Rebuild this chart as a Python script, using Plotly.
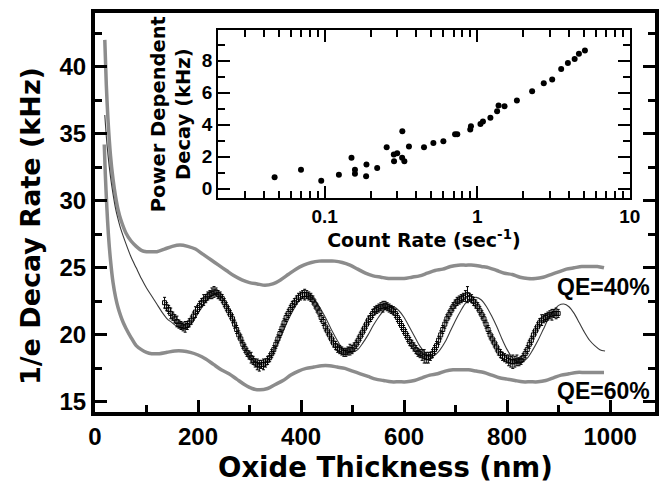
import plotly.graph_objects as go

# ---- main panel: decay rate vs oxide thickness ----
# measured points
data_x = [135, 139, 143, 147, 151, 155, 159, 163, 167, 171, 175, 179, 183, 187, 191, 195,
          199, 203, 207, 211, 215, 219, 223, 227, 231, 235, 239, 243, 247, 251, 255, 259,
          263, 267, 271, 275, 279, 283, 287, 291, 295, 299, 303, 307, 311, 315, 319, 323,
          327, 331, 335, 339, 343, 347, 351, 355, 359, 363, 367, 371, 375, 379, 383, 387,
          391, 395, 399, 403, 407, 411, 415, 419, 423, 427, 431, 435, 439, 443, 447, 451,
          455, 459, 463, 467, 471, 475, 479, 483, 487, 491, 495, 499, 503, 507, 511, 515,
          519, 523, 527, 531, 535, 539, 543, 547, 551, 555, 559, 563, 567, 571, 575, 579,
          583, 587, 591, 595, 599, 603, 607, 611, 615, 619, 623, 627, 631, 635, 639, 643,
          647, 651, 655, 659, 663, 667, 671, 675, 679, 683, 687, 691, 695, 699, 703, 707,
          711, 715, 719, 723, 727, 731, 735, 739, 743, 747, 751, 755, 759, 763, 767, 771,
          775, 779, 783, 787, 791, 795, 799, 803, 807, 811, 815, 819, 823, 827, 831, 835,
          839, 843, 847, 851, 855, 859, 863, 867, 871, 875, 879, 883, 887, 891, 895, 899]
data_y = [22.4, 22.1, 21.9, 21.6, 21.4, 21.2, 21.0, 20.8, 20.7, 20.6, 20.6, 20.7, 20.9, 21.1, 21.4, 21.7,
          21.9, 22.2, 22.4, 22.6, 22.7, 22.9, 23.0, 23.1, 23.2, 23.2, 23.0, 22.9, 22.7, 22.4, 22.1, 21.8,
          21.5, 21.2, 20.8, 20.4, 20.0, 19.7, 19.3, 19.0, 18.7, 18.5, 18.3, 18.1, 17.9, 17.8, 17.7, 17.8,
          17.8, 17.9, 18.1, 18.3, 18.6, 18.9, 19.3, 19.7, 20.1, 20.5, 20.9, 21.3, 21.6, 21.9, 22.2, 22.4,
          22.6, 22.8, 22.9, 23.0, 23.0, 23.0, 22.9, 22.8, 22.6, 22.3, 22.0, 21.7, 21.3, 21.0, 20.6, 20.3,
          20.0, 19.7, 19.4, 19.2, 19.0, 18.9, 18.8, 18.7, 18.7, 18.8, 18.9, 18.9, 19.1, 19.3, 19.6, 19.9,
          20.2, 20.5, 20.8, 21.1, 21.3, 21.6, 21.8, 21.9, 22.0, 22.1, 22.1, 22.2, 22.1, 22.0, 21.9, 21.8,
          21.6, 21.3, 21.0, 20.7, 20.4, 20.1, 19.8, 19.5, 19.3, 19.1, 18.9, 18.7, 18.6, 18.5, 18.4, 18.3,
          18.3, 18.4, 18.6, 18.9, 19.2, 19.6, 20.0, 20.4, 20.8, 21.2, 21.5, 21.8, 22.1, 22.3, 22.5, 22.6,
          22.7, 22.8, 22.9, 23.0, 22.8, 22.7, 22.5, 22.3, 22.1, 21.8, 21.5, 21.2, 20.8, 20.4, 20.0, 19.7,
          19.4, 19.1, 18.8, 18.6, 18.4, 18.3, 18.2, 18.1, 18.0, 18.0, 18.0, 18.1, 18.0, 18.1, 18.3, 18.6,
          18.9, 19.3, 19.6, 20.0, 20.3, 20.6, 20.9, 21.1, 21.2, 21.3, 21.4, 21.5, 21.5, 21.6, 21.6, 21.6]
data_err = [0.4, 0.3, 0.3, 0.4, 0.3, 0.3, 0.4, 0.3, 0.3, 0.3, 0.4, 0.3, 0.3, 0.3, 0.3, 0.4,
            0.3, 0.3, 0.3, 0.4, 0.3, 0.3, 0.3, 0.4, 0.4, 0.3, 0.3, 0.3, 0.3, 0.3, 0.3, 0.3,
            0.3, 0.3, 0.3, 0.3, 0.3, 0.3, 0.3, 0.3, 0.3, 0.3, 0.4, 0.3, 0.3, 0.4, 0.4, 0.3,
            0.4, 0.3, 0.3, 0.3, 0.3, 0.3, 0.3, 0.3, 0.3, 0.3, 0.3, 0.3, 0.3, 0.3, 0.3, 0.3,
            0.3, 0.3, 0.3, 0.3, 0.4, 0.3, 0.3, 0.3, 0.3, 0.3, 0.3, 0.3, 0.3, 0.3, 0.3, 0.3,
            0.3, 0.3, 0.3, 0.3, 0.3, 0.3, 0.3, 0.3, 0.3, 0.3, 0.4, 0.3, 0.3, 0.3, 0.3, 0.3,
            0.3, 0.3, 0.3, 0.3, 0.3, 0.3, 0.3, 0.3, 0.3, 0.3, 0.4, 0.3, 0.3, 0.3, 0.3, 0.3,
            0.3, 0.3, 0.3, 0.3, 0.3, 0.3, 0.3, 0.3, 0.3, 0.3, 0.3, 0.3, 0.3, 0.4, 0.5, 0.4,
            0.4, 0.3, 0.3, 0.3, 0.3, 0.3, 0.3, 0.3, 0.3, 0.3, 0.3, 0.3, 0.3, 0.3, 0.3, 0.3,
            0.3, 0.3, 0.4, 0.6, 0.3, 0.3, 0.3, 0.3, 0.3, 0.3, 0.3, 0.3, 0.3, 0.3, 0.3, 0.3,
            0.3, 0.3, 0.3, 0.3, 0.3, 0.3, 0.3, 0.4, 0.4, 0.5, 0.4, 0.4, 0.3, 0.3, 0.3, 0.3,
            0.3, 0.3, 0.3, 0.3, 0.3, 0.3, 0.3, 0.4, 0.3, 0.3, 0.3, 0.3, 0.4, 0.3, 0.4, 0.3]

# calculated curve through the data
fit_x = [19, 22, 25, 30, 35, 40, 45, 50, 60, 70, 80, 90, 100, 110, 120, 130, 140, 150, 160,
         170, 180, 190, 200, 210, 220, 230, 240, 250, 260, 270, 280, 290, 300, 310, 320, 330,
         340, 350, 360, 370, 380, 390, 400, 410, 420, 430, 440, 450, 460, 470, 480, 490, 500,
         510, 520, 530, 540, 550, 560, 570, 580, 590, 600, 610, 620, 630, 640, 650, 660, 670,
         680, 690, 700, 710, 720, 730, 740, 750, 760, 770, 780, 790, 800, 810, 820, 830, 840,
         850, 860, 870, 880, 890, 900, 910, 920, 930, 940, 950, 960, 970, 980, 990]
fit_y = [36.4, 34.8, 33.5, 31.8, 30.5, 29.4, 28.6, 27.9, 26.8, 25.8, 25.0, 24.2, 23.5, 22.9,
         22.3, 21.7, 21.2, 20.9, 20.6, 20.5, 20.6, 21.0, 21.6, 22.2, 22.7, 23.0, 23.0, 22.6,
         21.9, 21.0, 20.0, 19.1, 18.4, 18.0, 17.8, 17.9, 18.3, 19.0, 19.8, 20.7, 21.5, 22.2,
         22.7, 22.9, 22.8, 22.4, 21.8, 21.1, 20.3, 19.6, 19.0, 18.7, 18.7, 18.9, 19.4, 20.0,
         20.7, 21.3, 21.8, 22.1, 22.1, 21.8, 21.3, 20.6, 19.9, 19.2, 18.7, 18.4, 18.5, 18.9,
         19.5, 20.3, 21.1, 21.8, 22.4, 22.7, 22.8, 22.6, 22.1, 21.4, 20.6, 19.7, 18.9, 18.3,
         18.0, 18.0, 18.3, 18.9, 19.6, 20.4, 21.2, 21.8, 22.2, 22.3, 22.1, 21.6, 20.9, 20.2,
         19.6, 19.2, 18.9, 18.8]

# bounding curves for two quantum efficiencies
qe40_x = [19, 22, 25, 30, 35, 40, 45, 50, 60, 70, 80, 90, 100, 110, 120, 135, 150, 165, 180,
          195, 210, 225, 240, 255, 270, 285, 300, 315, 330, 345, 360, 375, 390, 405, 420, 435,
          450, 465, 480, 495, 510, 525, 540, 555, 570, 585, 600, 615, 630, 645, 660, 675, 690,
          705, 720, 735, 750, 765, 780, 795, 810, 825, 840, 855, 870, 885, 900, 915, 930, 945,
          960, 975, 988]
qe40_y = [42.0, 38.6, 36.2, 33.4, 31.6, 30.3, 29.3, 28.6, 27.6, 27.0, 26.6, 26.3, 26.2, 26.2,
          26.2, 26.4, 26.6, 26.7, 26.6, 26.4, 26.0, 25.6, 25.2, 24.8, 24.4, 24.1, 23.9, 23.8,
          23.7, 23.8, 24.1, 24.5, 24.9, 25.2, 25.4, 25.5, 25.5, 25.5, 25.4, 25.2, 24.9, 24.6,
          24.4, 24.3, 24.2, 24.2, 24.2, 24.3, 24.4, 24.6, 24.8, 24.9, 25.1, 25.2, 25.2, 25.2,
          25.1, 25.0, 24.8, 24.6, 24.5, 24.3, 24.2, 24.2, 24.3, 24.5, 24.7, 24.9, 25.0, 25.1,
          25.1, 25.1, 25.0]
qe60_x = [18, 20, 23, 26, 30, 35, 40, 45, 50, 55, 60, 70, 80, 90, 100, 110, 125, 140, 155,
          170, 185, 200, 215, 230, 245, 260, 275, 290, 305, 320, 335, 350, 365, 380, 395, 410,
          425, 440, 455, 470, 485, 500, 515, 530, 545, 560, 575, 590, 605, 620, 635, 650, 665,
          680, 695, 710, 725, 740, 755, 770, 785, 800, 815, 830, 845, 860, 875, 890, 905, 920,
          935, 950, 965, 980, 988]
qe60_y = [34.2, 32.0, 29.5, 27.5, 25.6, 23.9, 22.8, 22.0, 21.4, 20.9, 20.5, 19.8, 19.2, 18.9,
          18.7, 18.6, 18.6, 18.7, 18.8, 18.8, 18.7, 18.5, 18.2, 17.8, 17.4, 17.1, 16.7, 16.3,
          16.0, 15.9, 16.0, 16.3, 16.6, 17.0, 17.3, 17.5, 17.6, 17.7, 17.7, 17.6, 17.5, 17.3,
          17.1, 16.9, 16.7, 16.6, 16.5, 16.5, 16.5, 16.6, 16.8, 17.0, 17.1, 17.3, 17.4, 17.4,
          17.4, 17.3, 17.2, 17.0, 16.8, 16.7, 16.6, 16.5, 16.5, 16.5, 16.6, 16.8, 17.0, 17.1,
          17.2, 17.2, 17.2, 17.2, 17.2]

x_ticks = [0, 200, 400, 600, 800, 1000]
y_ticks = [15, 20, 25, 30, 35, 40]

# ---- inset: power dependent decay vs count rate ----
rate = [0.047, 0.070, 0.095, 0.124, 0.150, 0.158, 0.158, 0.188, 0.187, 0.221, 0.255, 0.284,
        0.285, 0.299, 0.323, 0.322, 0.333, 0.357, 0.448, 0.516, 0.600, 0.716, 0.740, 0.90,
        0.91, 1.05, 1.09, 1.22, 1.35, 1.38, 1.51, 1.82, 2.29, 2.73, 3.10, 3.55, 3.93, 4.35,
        4.64, 5.08]
pdecay = [0.71, 1.17, 0.48, 0.86, 1.92, 1.17, 0.92, 1.50, 0.77, 1.29, 2.58, 2.13, 1.71, 2.21,
          3.58, 1.92, 1.71, 2.63, 2.58, 2.85, 2.96, 3.40, 3.40, 3.69, 3.90, 4.04, 4.19, 4.42,
          4.83, 5.19, 5.15, 5.50, 6.08, 6.58, 6.81, 7.48, 7.85, 8.10, 8.42, 8.63]
inset_x_ticks = [0.1, 1, 10]
inset_x_labels = ["0.1", "1", "10"]
inset_x_minor = [0.03, 0.04, 0.05, 0.06, 0.07, 0.08, 0.09,
                 0.2, 0.3, 0.4, 0.5, 0.6, 0.7, 0.8, 0.9,
                 2, 3, 4, 5, 6, 7, 8, 9]
inset_y_ticks = [0, 2, 4, 6, 8]

GRAY = "#8c8c8c"
TICK_FONT = dict(family="Liberation Sans", size=24, color="black", weight="bold")
INSET_TICK_FONT = dict(family="Liberation Sans", size=19, color="black", weight="bold")


def title_font(size):
    return dict(family="DejaVu Sans", size=size, color="black", weight="bold")


fig = go.Figure()

fig.add_trace(go.Scatter(x=qe40_x, y=qe40_y, mode="lines",
                         line=dict(color=GRAY, width=3.5, shape="spline", smoothing=0.8),
                         showlegend=False, hoverinfo="skip"))
fig.add_trace(go.Scatter(x=qe60_x, y=qe60_y, mode="lines",
                         line=dict(color=GRAY, width=3.5, shape="spline", smoothing=0.8),
                         showlegend=False, hoverinfo="skip"))
fig.add_trace(go.Scatter(x=fit_x, y=fit_y, mode="lines",
                         line=dict(color="#3a3a3a", width=1.1, shape="spline", smoothing=0.8),
                         showlegend=False, hoverinfo="skip"))
fig.add_trace(go.Scatter(x=data_x, y=data_y, mode="markers",
                         marker=dict(symbol="square-open", size=4, color="black",
                                     line=dict(width=1, color="black")),
                         error_y=dict(type="data", array=data_err, thickness=1,
                                      width=1.5, color="black"),
                         showlegend=False))

fig.add_trace(go.Scatter(x=rate, y=pdecay, mode="markers", xaxis="x2", yaxis="y2",
                         marker=dict(symbol="circle", size=6, color="black"),
                         showlegend=False))

# curve labels
fig.add_annotation(x=987, y=23.55, xref="x", yref="y", text="QE=40%", showarrow=False,
                   font=dict(family="Liberation Sans", size=23, color="black", weight="bold"))
fig.add_annotation(x=987, y=15.8, xref="x", yref="y", text="QE=60%", showarrow=False,
                   font=dict(family="Liberation Sans", size=23, color="black", weight="bold"))

# main axis titles
fig.add_annotation(x=0.518, y=-0.137, xref="paper", yref="paper",
                   text="Oxide Thickness (nm)", showarrow=False,
                   xanchor="center", yanchor="middle", font=title_font(27.5))
fig.add_annotation(x=-0.116, y=0.466, xref="paper", yref="paper",
                   text="1/e Decay Rate (kHz)", showarrow=False, textangle=-90,
                   xanchor="center", yanchor="middle", font=title_font(27))

fig.update_layout(
    width=665, height=490,
    margin=dict(l=95, r=10, t=13, b=78, autoexpand=False),
    paper_bgcolor="white", plot_bgcolor="white",
    showlegend=False,
    xaxis=dict(
        range=[0, 1087], tickmode="array", tickvals=x_ticks, automargin=False,
        ticks="inside", ticklen=12, tickwidth=3, tickcolor="black",
        minor=dict(dtick=100, tick0=0, ticks="inside", ticklen=7, tickwidth=3,
                   tickcolor="black"),
        showline=True, linewidth=4, linecolor="black", mirror=True,
        showgrid=False, zeroline=False, tickfont=TICK_FONT,
    ),
    yaxis=dict(
        range=[14.25, 44.0], tickmode="array", tickvals=y_ticks, automargin=False,
        ticks="inside", ticklen=12, tickwidth=3, tickcolor="black",
        minor=dict(dtick=2.5, tick0=15, ticks="inside", ticklen=7, tickwidth=3,
                   tickcolor="black"),
        showline=True, linewidth=4, linecolor="black", mirror="ticks",
        showgrid=False, zeroline=False, tickfont=TICK_FONT,
    ),
    xaxis2=dict(
        type="log", range=[-1.699, 1.0], domain=[0.2196, 0.955], anchor="y2",
        automargin=False,
        tickmode="array", tickvals=inset_x_ticks, ticktext=inset_x_labels,
        ticks="inside", ticklen=12, tickwidth=1.5, tickcolor="black",
        minor=dict(tickmode="array", tickvals=inset_x_minor, ticks="inside",
                   ticklen=7, tickwidth=1.5, tickcolor="black"),
        showline=True, linewidth=1.5, linecolor="black", mirror="ticks",
        showgrid=False, zeroline=False, tickfont=INSET_TICK_FONT,
        title=dict(text="Count Rate (sec<sup>-1</sup>)", font=title_font(19), standoff=4),
    ),
    yaxis2=dict(
        range=[-0.6, 9.9], domain=[0.536, 0.957], anchor="x2", automargin=False,
        tickmode="array", tickvals=inset_y_ticks,
        ticks="inside", ticklen=12, tickwidth=1.5, tickcolor="black",
        minor=dict(dtick=1, tick0=0, ticks="inside", ticklen=7, tickwidth=1.5,
                   tickcolor="black"),
        showline=True, linewidth=1.5, linecolor="black", mirror="ticks",
        showgrid=False, zeroline=False, tickfont=INSET_TICK_FONT,
        title=dict(text="Power Dependent<br>Decay (kHz)", font=title_font(19.5), standoff=6),
    ),
)

fig.write_html("out.html")
